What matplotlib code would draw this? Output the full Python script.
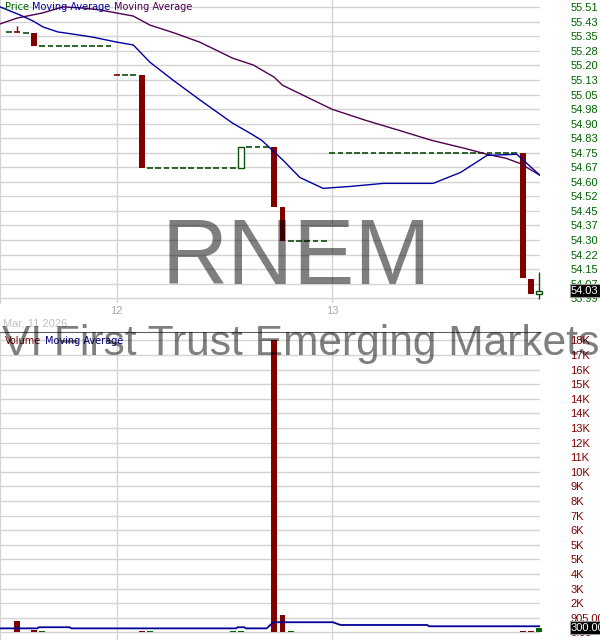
import matplotlib
matplotlib.use('Agg')
import matplotlib.pyplot as plt
import numpy as np

# ---- data (15 minute bars, index 14 = Mar 12 open, 40 = Mar 13 open) ----
bars = list(range(1, 66))

opens = [
    # Mar 11, bars 1-13
    55.381, 55.383, 55.375, 55.375,
    55.307, 55.307, 55.307, 55.307, 55.307, 55.307, 55.307, 55.307, 55.307,
    # Mar 12, bars 14-39
    55.157, 55.155, 55.155, 55.155,
    54.670, 54.670, 54.670, 54.670, 54.670, 54.670,
    54.670, 54.670, 54.670, 54.670, 54.670, 54.670,
    54.778, 54.778, 54.778, 54.778,
    54.469,
    54.291, 54.291, 54.291, 54.291, 54.291,
    # Mar 13, bars 40-65
    54.747, 54.747, 54.747, 54.747, 54.747, 54.747, 54.747, 54.747,
    54.747, 54.747, 54.747, 54.747, 54.747, 54.747, 54.747, 54.747,
    54.747, 54.747, 54.747, 54.747, 54.747, 54.747, 54.747, 54.747,
    54.090, 54.012,
]
closes = [
    # Mar 11
    55.381, 55.380, 55.375, 55.307,
    55.307, 55.307, 55.307, 55.307, 55.307, 55.307, 55.307, 55.307, 55.307,
    # Mar 12
    55.155, 55.155, 55.155, 54.670,
    54.670, 54.670, 54.670, 54.670, 54.670, 54.670,
    54.670, 54.670, 54.670, 54.670, 54.670, 54.778,
    54.778, 54.778, 54.778, 54.469,
    54.291,
    54.291, 54.291, 54.291, 54.291, 54.291,
    # Mar 13
    54.747, 54.747, 54.747, 54.747, 54.747, 54.747, 54.747, 54.747,
    54.747, 54.747, 54.747, 54.747, 54.747, 54.747, 54.747, 54.747,
    54.747, 54.747, 54.747, 54.747, 54.747, 54.747, 54.747, 54.095,
    54.012, 54.030,
]
wick_bars = [2, 65]
wick_highs = [55.412, 54.125]
wick_lows = [55.380, 53.987]

volumes = [
    # Mar 11
    0, 700, 0, 150,
    100, 0, 0, 0, 0, 0, 0, 0, 0,
    # Mar 12
    0, 0, 0, 100,
    100, 0, 0, 0, 0, 0,
    0, 0, 0, 0, 100, 100,
    0, 0, 0, 18100,
    1100,
    100, 0, 0, 0, 0,
    # Mar 13
    0, 0, 0, 0, 0, 0, 0, 0,
    0, 0, 0, 0, 0, 0, 0, 0,
    0, 0, 0, 0, 0, 0, 0, 100,
    100, 300,
]

# moving averages (bar index, value)
ma_long_x = [-0.1, 2, 5, 7.5, 10, 12, 14, 16, 18, 21, 24, 26, 28, 30.5, 33, 34,
             36, 40, 44, 48, 52, 56, 58.7, 61, 62.7, 65.1]
ma_long = [55.423, 55.454, 55.480, 55.512, 55.506, 55.496, 55.480, 55.464, 55.417,
           55.375, 55.328, 55.286, 55.244, 55.208, 55.145, 55.103, 55.061, 54.977,
           54.920, 54.868, 54.815, 54.773, 54.742, 54.721, 54.694, 54.632]
ma_short_x = [-0.1, 2.3, 3.9, 5.1, 6.9, 8.7, 11.1, 14, 16, 18, 20.8, 24.1, 28,
              30.1, 31.5, 34.1, 36.1, 38.9, 42.2, 46.2, 52.2, 55.5, 58.7, 62.3, 65.1]
ma_short = [55.512, 55.470, 55.438, 55.407, 55.381, 55.370, 55.354, 55.328, 55.313,
            55.223, 55.129, 55.024, 54.904, 54.852, 54.815, 54.710, 54.621, 54.564,
            54.574, 54.590, 54.590, 54.647, 54.736, 54.742, 54.632]
vol_ma_x = [-0.1, 4.4, 4.6, 8.3, 8.5, 28.4, 28.6, 29.4, 29.6, 32.1, 32.9, 40.1,
            41.0, 51.5, 51.7, 65.1]
vol_ma = [250, 250, 320, 320, 250, 250, 320, 320, 250, 250, 630, 630, 460, 460,
          380, 380]

day_starts = [14, 40]
day_labels = ['12', '13']
first_date = 'Mar, 11 2026'

price_labels = ['55.51', '55.43', '55.35', '55.28', '55.20', '55.13', '55.05',
                '54.98', '54.90', '54.83', '54.75', '54.67', '54.60', '54.52',
                '54.45', '54.37', '54.30', '54.22', '54.15', '54.07', '53.99']
vol_labels = ['18K', '17K', '16K', '15K', '14K', '14K', '13K', '12K', '11K', '10K',
              '9K', '8K', '7K', '6K', '5K', '5K', '4K', '3K', '2K', '905.00', '0.00']
last_price = 54.03
last_volume = 300

RED = '#800000'
GREEN = '#006400'
DASH_GREEN = '#0b4d0b'
GRID = '#d3d3d3'

W, H = 600, 640
fig = plt.figure(figsize=(6, 6.4), dpi=100)


def add_px_axes(left, top, right, bottom):
    return fig.add_axes([left / W, 1 - bottom / H, (right - left) / W, (bottom - top) / H])


ax = add_px_axes(0, 0, 540, 303)
axv = add_px_axes(0, 332, 540, 640)

for a in (ax, axv):
    a.set_xlim(-0.1, 65.1)
    a.set_xticks([])
    for s in a.spines.values():
        s.set_visible(False)
    a.spines['left'].set_visible(True)
    a.spines['left'].set_color(GRID)
    for d in day_starts:
        a.axvline(d, color=GRID, lw=1, zorder=0)
    a.grid(axis='y', color=GRID, lw=1)
    a.set_axisbelow(True)
    a.yaxis.tick_right()
    a.tick_params(axis='y', length=0, pad=22, labelsize=8)

axv.spines['top'].set_visible(True)
axv.spines['top'].set_color('#606060')

# ---- price panel ----
ax.set_ylim(53.965, 55.548)
ax.set_yticks(np.linspace(53.99, 55.51, 21))
ax.set_yticklabels(price_labels[::-1], color=GREEN, family='Liberation Sans')

w = 0.7
for x, o, c in zip(bars, opens, closes):
    if abs(c - o) < 0.004:
        col = RED if c < o else DASH_GREEN
        ax.hlines(c, x - w / 2, x + w / 2, color=col, lw=1.2, clip_on=False, zorder=3)
    elif c < o:
        ax.bar(x, o - c, bottom=c, width=w, color=RED, lw=0, clip_on=False, zorder=3)
    else:
        ax.bar(x, c - o, bottom=o, width=w, facecolor='white', edgecolor=DASH_GREEN,
               lw=1, clip_on=False, zorder=3)
for x, hi, lo in zip(wick_bars, wick_highs, wick_lows):
    i = bars.index(x)
    col = RED if closes[i] < opens[i] else DASH_GREEN
    ax.vlines(x, lo, hi, color=col, lw=1, clip_on=False, zorder=2)

ax.plot(ma_long_x, ma_long, color='#500050', lw=1, zorder=4)
ax.plot(ma_short_x, ma_short, color='#0000a0', lw=1, zorder=4)

ax.annotate(f'{last_price:.2f}', xy=(1, last_price), xycoords=('axes fraction', 'data'),
            xytext=(31, 0), textcoords='offset pixels', va='center', ha='left',
            color='white', fontsize=8, family='Liberation Sans', annotation_clip=False,
            bbox=dict(boxstyle='square,pad=0.12', fc='black', ec='#999999', lw=0.8))

for d, lab in zip(day_starts, day_labels):
    ax.annotate(lab, xy=(d, 0), xycoords=('data', 'axes fraction'), xytext=(0, -8),
                textcoords='offset pixels', ha='center', va='center', color='#aaaaaa',
                fontsize=8, family='Liberation Sans', annotation_clip=False)
fig.text(3 / W, 1 - 324 / H, first_date, color='#c0c0c0', fontsize=8,
         family='Liberation Sans', va='center')

# ---- volume panel ----
axv.set_ylim(-471, 18627)
axv.set_yticks(np.arange(21) * 905)
axv.set_yticklabels(vol_labels[::-1], color=RED, family='Liberation Sans')
vcols = [RED if c < o else GREEN for o, c in zip(opens, closes)]
axv.bar(bars, volumes, width=w, color=vcols, lw=0, clip_on=False, zorder=3)
axv.plot(vol_ma_x, vol_ma, color='#000099', lw=1.3, zorder=4)
axv.annotate(f'{last_volume:.2f}', xy=(1, last_volume), xycoords=('axes fraction', 'data'),
             xytext=(31, 0), textcoords='offset pixels', va='center', ha='left',
             color='white', fontsize=8, family='Liberation Sans', annotation_clip=False,
             bbox=dict(boxstyle='square,pad=0.12', fc='black', ec='#999999', lw=0.8))

# ---- legends ----
renderer = fig.canvas.get_renderer()


def multicolor(x, y, parts):
    for s, col in parts:
        t = fig.text(x / W, 1 - y / H, s, color=col, va='center', fontsize=7,
                     family='DejaVu Sans', zorder=5)
        x += t.get_window_extent(renderer).width + 3.5


multicolor(5, 7, [('Price', GREEN), ('Moving Average', '#0000a0'),
                  ('Moving Average', '#500050')])
multicolor(5, 340.5, [('Volume', RED), ('Moving Average', '#000080')])

# ---- watermarks ----
fig.text(296 / W, 1 - 284 / H, 'RNEM', fontsize=66, family='Liberation Sans',
         color='black', alpha=0.5, ha='center', va='baseline', zorder=10)
fig.text(2 / W, 1 - 355 / H, 'VI First Trust Emerging Markets', fontsize=30.6,
         family='Liberation Sans', color='black', alpha=0.5, ha='left',
         va='baseline', zorder=10)

fig.savefig('out.png', dpi=100)
